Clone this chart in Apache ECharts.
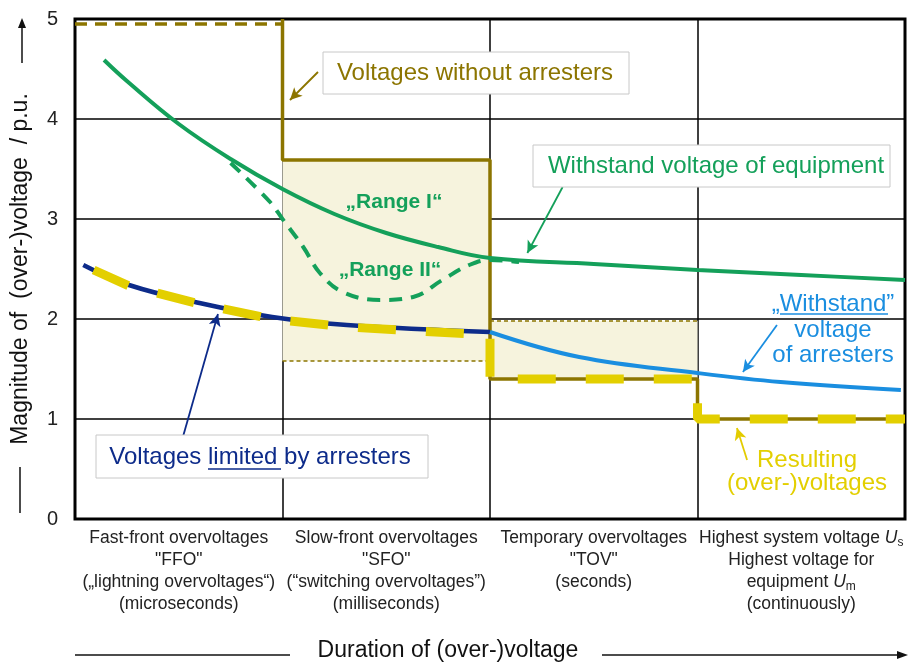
<!DOCTYPE html>
<html>
<head>
<meta charset="utf-8">
<script src="https://cdn.jsdelivr.net/npm/echarts@6/dist/echarts.min.js"></script>
<style>
  html, body { margin: 0; padding: 0; background: #fff; }
  #chart { width: 912px; height: 663px; }
</style>
</head>
<body>
<div id="chart"></div>
<script>
// duration classes shown under the four columns
const categories = [
  'Fast-front overvoltages\n"FFO"\n(„lightning overvoltages“)\n(microseconds)',
  'Slow-front overvoltages\n"SFO"\n(“switching overvoltages”)\n(milliseconds)',
  'Temporary overvoltages\n"TOV"\n(seconds)',
  'Highest system voltage {i|U}{sub|s}\nHighest voltage for\nequipment {i|U}{sub|m}\n(continuously)'
];
const yTicks = [0, 1, 2, 3, 4, 5];

// curves, x = column position (0..4), y = p.u.
const equipWithstand = [[0.14, 4.59], [0.25, 4.38], [0.5, 3.95], [0.75, 3.6], [1.0, 3.3], [1.25, 3.05],
  [1.5, 2.86], [1.75, 2.72], [2.0, 2.61], [2.5, 2.55], [3.0, 2.49], [3.5, 2.44], [4.0, 2.39]];
const rangeII = [[0.75, 3.56], [0.94, 3.17], [1.0, 3.0], [1.1, 2.72], [1.18, 2.46], [1.29, 2.27],
  [1.47, 2.19], [1.63, 2.22], [1.77, 2.39], [1.9, 2.54], [2.0, 2.59], [2.14, 2.57]];
const limitedByArresters = [[0.04, 2.54], [0.26, 2.34], [0.6, 2.16], [0.95, 2.02], [1.31, 1.94], [2.0, 1.87]];
const arresterWithstand = [[2.0, 1.87], [2.43, 1.62], [3.0, 1.46], [3.4, 1.37], [3.98, 1.29]];
const withoutArresters = [[1, 5], [1, 3.59], [2, 3.59], [2, 1.4], [3, 1.4], [3, 1.0], [4, 1.0]];
const withoutArrestersFFO = [[0, 4.95], [1, 4.95]];
const resulting = [[0.09, 2.49], [0.26, 2.33], [0.6, 2.15], [0.95, 2.0], [1.31, 1.92], [2.0, 1.84],
  [2.0, 1.4], [3.0, 1.4], [3.0, 1.0], [4.0, 1.0]];
const rangeSFOLow = [[1, 1.58], [2, 1.58]];
const rangeTOVHigh = [[2, 1.98], [3, 1.98]];
// shaded ranges [x0, y0, x1, y1]
const shadedRanges = [[1, 1.58, 2, 3.59], [2, 1.4, 3, 1.98]];
// annotation arrows [x0, y0, x1, y1, colour]
const arrows = [
  [1.171, 4.47, 1.036, 4.19, '#8c7500'],
  [2.35, 3.32, 2.18, 2.66, '#14a05a'],
  [3.383, 1.94, 3.219, 1.47, '#1a8ee0'],
  [0.52, 0.82, 0.689, 2.05, '#0d2b8a'],
  [3.239, 0.59, 3.19, 0.91, '#e3cc00']
];

const OLIVE = '#8c7500';
const GREEN = '#14a05a';
const DARKBLUE = '#0d2b8a';
const LIGHTBLUE = '#1a8ee0';
const YELLOW = '#e3cf00';
const FONT = 'Liberation Sans, Arial, sans-serif';

const chart = echarts.init(document.getElementById('chart'));

function line(name, data, color, width, opts) {
  return Object.assign({
    name: name, type: 'line', data: data, showSymbol: false, symbol: 'none',
    xAxisIndex: 0, yAxisIndex: 0, z: 3,
    lineStyle: { color: color, width: width }
  }, opts || {});
}

function box(x, y, w, h, z) {
  return { type: 'rect', shape: { x: x, y: y, width: w, height: h }, z: z || 50,
    style: { fill: '#fff', stroke: '#c8c8c8', lineWidth: 1 } };
}
function txt(x, y, text, color, size, extra) {
  return { type: 'text', x: x, y: y, z: 60,
    style: Object.assign({ text: text, fill: color, font: (size || 24) + 'px ' + FONT,
      align: 'center', verticalAlign: 'middle' }, extra || {}) };
}
function seg(x1, y1, x2, y2, color, w) {
  return { type: 'line', z: 60, shape: { x1: x1, y1: y1, x2: x2, y2: y2 },
    style: { stroke: color, lineWidth: w || 1.5 } };
}

const option = {
  animation: false,
  grid: { left: 75, top: 19, width: 830, height: 500, show: true, borderColor: '#000', borderWidth: 3, z: 0,
    outerBoundsMode: 'none', containLabel: false },
  xAxis: [
    { type: 'value', min: 0, max: 4, interval: 1, position: 'top', z: 1,
      axisLine: { show: false }, axisTick: { show: false }, axisLabel: { show: false },
      splitLine: { show: true, lineStyle: { color: '#000', width: 1.5 } } },
    { type: 'category', data: categories, position: 'bottom', boundaryGap: true,
      axisLine: { show: false }, axisTick: { show: false }, splitLine: { show: false },
      axisLabel: { interval: 0, margin: 8, color: '#222', fontSize: 17.5, lineHeight: 22, fontFamily: FONT,
        rich: {
          i: { fontStyle: 'italic', fontSize: 17.5, lineHeight: 22, color: '#222', fontFamily: FONT },
          sub: { fontSize: 12, lineHeight: 13, verticalAlign: 'bottom', color: '#222', fontFamily: FONT }
        } } }
  ],
  yAxis: { type: 'value', min: yTicks[0], max: yTicks[yTicks.length - 1], interval: 1, z: 1,
    axisLine: { show: false }, axisTick: { show: false },
    axisLabel: { color: '#222', fontSize: 20, margin: 17, fontFamily: FONT },
    splitLine: { show: true, lineStyle: { color: '#000', width: 1.5 } },
    name: 'Magnitude of  (over-)voltage  / p.u.', nameLocation: 'middle', nameRotate: 90, nameGap: 43,
    nameTextStyle: { fontSize: 23, color: '#111', fontFamily: FONT } },
  series: [
    // beige ranges, kept under the grid lines
    { type: 'line', data: [], z: 0, xAxisIndex: 0, yAxisIndex: 0,
      markArea: { silent: true, itemStyle: { color: '#f6f3dd' },
        data: shadedRanges.map(r => [{ coord: [r[0], r[1]] }, { coord: [r[2], r[3]] }]) } },
    line('SFO low', rangeSFOLow, OLIVE, 1.5, { lineStyle: { color: OLIVE, width: 1.5, type: [4, 3] } }),
    line('TOV high', rangeTOVHigh, OLIVE, 1.5, { lineStyle: { color: OLIVE, width: 1.5, type: [4, 3] } }),
    line('Voltages without arresters', withoutArresters, OLIVE, 3.5),
    line('Voltages without arresters FFO', withoutArrestersFFO, OLIVE, 3.5,
      { lineStyle: { color: OLIVE, width: 3.5, type: [12, 8] } }),
    line('Withstand voltage of equipment', equipWithstand, GREEN, 4, { smooth: 0.4 }),
    line('Range II', rangeII, GREEN, 4, { smooth: 0.4, lineStyle: { color: GREEN, width: 4, type: [13, 9] } }),
    line('Voltages limited by arresters', limitedByArresters, DARKBLUE, 4.5, { smooth: 0.4 }),
    line('Withstand voltage of arresters', arresterWithstand, LIGHTBLUE, 4, { smooth: 0.4 }),
    line('Resulting (over-)voltages', resulting, YELLOW, 9,
      { z: 4, lineStyle: { color: YELLOW, width: 9, type: [38, 30] } }),
    // annotation arrows
    { type: 'line', data: [], z: 5, xAxisIndex: 0, yAxisIndex: 0,
      markLine: { silent: true, symbol: ['none', 'arrow'], symbolSize: [9, 12], label: { show: false },
        data: arrows.map(a => [
          { coord: [a[0], a[1]], lineStyle: { color: a[4], width: 1.8, type: 'solid' } },
          { coord: [a[2], a[3]] }
        ]) } }
  ],
  graphic: [
    // y-axis name lines and arrow
    seg(20, 467, 20, 513, '#111', 1.5),
    seg(22, 63, 22, 26, '#111', 1.5),
    { type: 'polygon', z: 60, shape: { points: [[22, 18], [18, 28], [26, 28]] }, style: { fill: '#111' } },
    // x-axis title with lines and arrow
    txt(448, 651, 'Duration of (over-)voltage', '#111', 23),
    seg(75, 655, 290, 655, '#111', 1.5),
    seg(602, 655, 898, 655, '#111', 1.5),
    { type: 'polygon', z: 60, shape: { points: [[908, 655], [897, 651], [897, 659]] }, style: { fill: '#111' } },
    // annotation boxes
    box(323, 52, 306, 42),
    txt(475, 73, 'Voltages without arresters', OLIVE),
    box(533, 145, 357, 42),
    txt(716, 166, 'Withstand voltage of equipment', GREEN),
    box(96, 435, 332, 43),
    txt(260, 457, 'Voltages limited by arresters', DARKBLUE),
    seg(208, 469, 281, 469, DARKBLUE, 1.5),
    txt(394, 202, '„Range I“', GREEN, 21, { font: 'bold 21px ' + FONT }),
    txt(390, 270, '„Range II“', GREEN, 21, { font: 'bold 21px ' + FONT }),
    txt(833, 304, '„Withstand”', LIGHTBLUE),
    seg(780, 314, 888, 314, LIGHTBLUE, 1.5),
    txt(833, 330, 'voltage', LIGHTBLUE),
    txt(833, 355, 'of arresters', LIGHTBLUE),
    txt(807, 460, 'Resulting', YELLOW),
    txt(807, 483, '(over-)voltages', YELLOW)
  ]
};

chart.setOption(option);
window.addEventListener('resize', () => chart.resize());
</script>
</body>
</html>
